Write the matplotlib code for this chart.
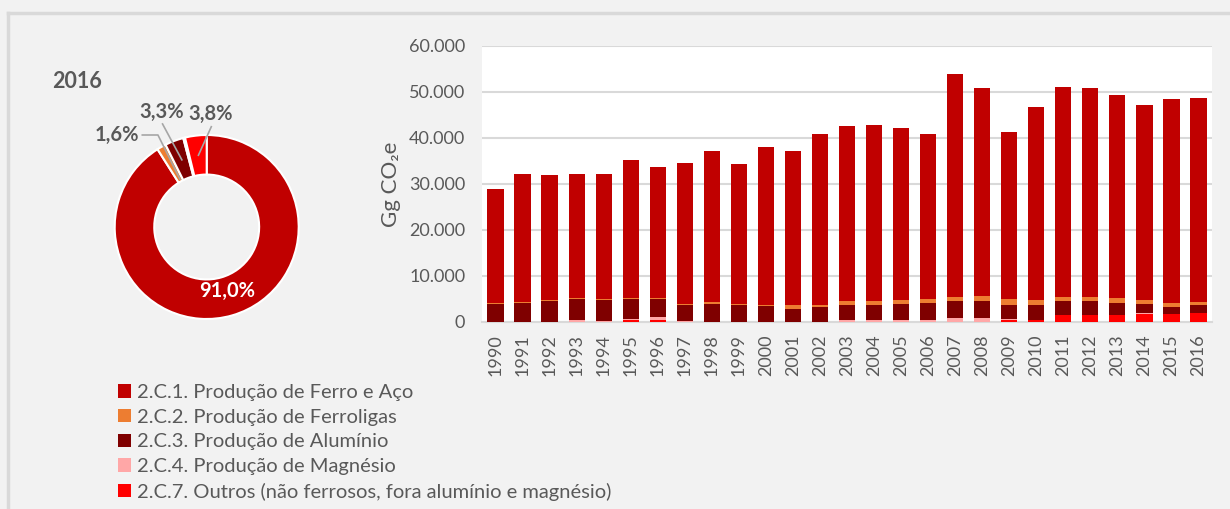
import numpy as np
import matplotlib.pyplot as plt
from matplotlib.lines import Line2D
from matplotlib.ticker import FuncFormatter

plt.rcParams['font.family'] = ['Lato', 'DejaVu Sans']

anos = [str(a) for a in range(1990, 2017)]

# Gg CO2e por subsetor (leitura do gráfico)
ferro_aco = [24900, 27800, 27300, 27000, 27200, 30000, 28400, 30600, 32800, 30400,
             34300, 33500, 37100, 38000, 38300, 37300, 35700, 48500, 45100, 36400,
             42000, 45500, 45300, 44100, 42400, 44400, 44420]
ferroligas = [100, 200, 200, 300, 200, 200, 300, 200, 400, 400,
              400, 700, 400, 900, 900, 900, 1000, 1000, 1200, 1200,
              1000, 1000, 1000, 1000, 700, 900, 780]
aluminio = [4000, 4200, 4500, 4400, 4500, 4300, 4000, 3500, 3800, 3500,
            3300, 2800, 3200, 3300, 3300, 3500, 3700, 3700, 3700, 3000,
            3300, 3000, 3000, 2700, 2000, 1500, 1600]
magnesio = [0, 0, 0, 500, 300, 200, 500, 300, 100, 100,
            100, 100, 100, 400, 400, 400, 400, 800, 800, 200,
            0, 0, 0, 0, 300, 0, 150]
outros = [0, 0, 0, 0, 0, 500, 500, 0, 0, 0,
          0, 0, 0, 0, 0, 0, 0, 0, 0, 500,
          500, 1500, 1500, 1500, 1700, 1700, 1850]

nomes = ['2.C.1. Produção de Ferro e Aço',
         '2.C.2. Produção de Ferroligas',
         '2.C.3. Produção de Alumínio',
         '2.C.4. Produção de Magnésio',
         '2.C.7. Outros (não ferrosos, fora alumínio e magnésio)']
cores = ['#c00000', '#ed7d31', '#7f0000', '#ffa7a7', '#ff0000']
series = [ferro_aco, ferroligas, aluminio, magnesio, outros]

cinza = '#595959'
fundo = '#f2f2f2'

fig = plt.figure(figsize=(12.3, 5.09), dpi=100, facecolor=fundo)

# moldura (apenas topo e esquerda visíveis)
fig.add_artist(Line2D([8 / 1230, 8 / 1230], [0, 1 - 13 / 509], color='#d9d9d9', lw=2.5))
fig.add_artist(Line2D([8 / 1230, 1], [1 - 13 / 509, 1 - 13 / 509], color='#d9d9d9', lw=2.5))

# ---- barras empilhadas ----
ax = fig.add_axes([482 / 1230, 1 - 322 / 509, 730 / 1230, 276 / 509])
ax.set_facecolor('white')
x = np.arange(len(anos))
ordem = [4, 3, 2, 1, 0]  # de baixo para cima: outros, magnésio, alumínio, ferroligas, ferro
base = np.zeros(len(anos))
handles = {}
for i in ordem:
    vals = np.array(series[i], dtype=float)
    b = ax.bar(x, vals, bottom=base, width=0.6, color=cores[i], label=nomes[i], zorder=3)
    handles[i] = b
    base += vals

ax.set_xlim(-0.5, len(anos) - 0.5)
ax.set_ylim(0, 60000)
ax.set_yticks(np.arange(0, 60001, 10000))
ax.yaxis.set_major_formatter(FuncFormatter(lambda v, p: f'{int(v):,}'.replace(',', '.')))
ax.set_xticks(x)
ax.set_xticklabels(anos, rotation=90)
ax.tick_params(axis='both', length=0, colors=cinza, labelsize=13)
ax.tick_params(axis='y', pad=12)
ax.tick_params(axis='x', pad=9)
ax.grid(axis='y', color='#d9d9d9', lw=1.5, zorder=0)
for s in ['top', 'right', 'left']:
    ax.spines[s].set_visible(False)
ax.spines['bottom'].set_color('#d9d9d9')
ax.spines['bottom'].set_linewidth(1.5)
ax.set_ylabel('Gg CO₂e', color=cinza, fontsize=16, labelpad=6)

# ---- rosca 2016 ----
r_px = 92
cx, cy = 206.7, 227
axp = fig.add_axes([(cx - r_px) / 1230, 1 - (cy + r_px) / 509, 2 * r_px / 1230, 2 * r_px / 509])
axp.set_facecolor('none')
v2016 = [s[-1] for s in series]
pct = np.array(v2016) / sum(v2016) * 100
axp.pie(v2016, colors=cores, startangle=90, counterclock=False, radius=1,
        wedgeprops=dict(width=0.43, edgecolor='white', linewidth=1.5))
axp.set_xlim(-1, 1)
axp.set_ylim(-1, 1)
axp.axis('off')

def rotulo(p):
    return f'{p:.1f}%'.replace('.', ',')

axp.text(0.22, -0.70, rotulo(pct[0]), color='white', fontsize=14.5, fontweight='bold',
         ha='center', va='center')
linha = dict(color='#a6a6a6', lw=1.2)
# ferroligas
axp.plot([-0.70, -0.53, -0.29], [1.0, 1.0, 0.52], **linha, clip_on=False)
axp.text(-0.73, 1.0, rotulo(pct[1]), color=cinza, fontsize=14.5, fontweight='bold',
         ha='right', va='center')
# alumínio
axp.plot([-0.48, -0.27], [1.12, 0.73], **linha, clip_on=False)
axp.text(-0.49, 1.25, rotulo(pct[2]), color=cinza, fontsize=14.5, fontweight='bold',
         ha='center', va='center')
# outros
axp.plot([0.05, -0.09], [1.09, 0.78], **linha, clip_on=False)
axp.text(0.04, 1.23, rotulo(pct[4]), color=cinza, fontsize=14.5, fontweight='bold',
         ha='center', va='center')

fig.text(52 / 1230, 1 - 82 / 509, '2016', color=cinza, fontsize=15.5, fontweight='bold',
         ha='left', va='center')

# ---- legenda ----
leg = fig.legend([handles[i] for i in range(5)], nomes, loc='upper left',
                 bbox_to_anchor=(110 / 1230, 1 - 376 / 509), frameon=False,
                 fontsize=14.5, handlelength=0.65, handleheight=0.65, handletextpad=0.3,
                 labelspacing=0.38, borderaxespad=0)
for t in leg.get_texts():
    t.set_color(cinza)

fig.savefig('out.png', dpi=100, facecolor=fundo)
